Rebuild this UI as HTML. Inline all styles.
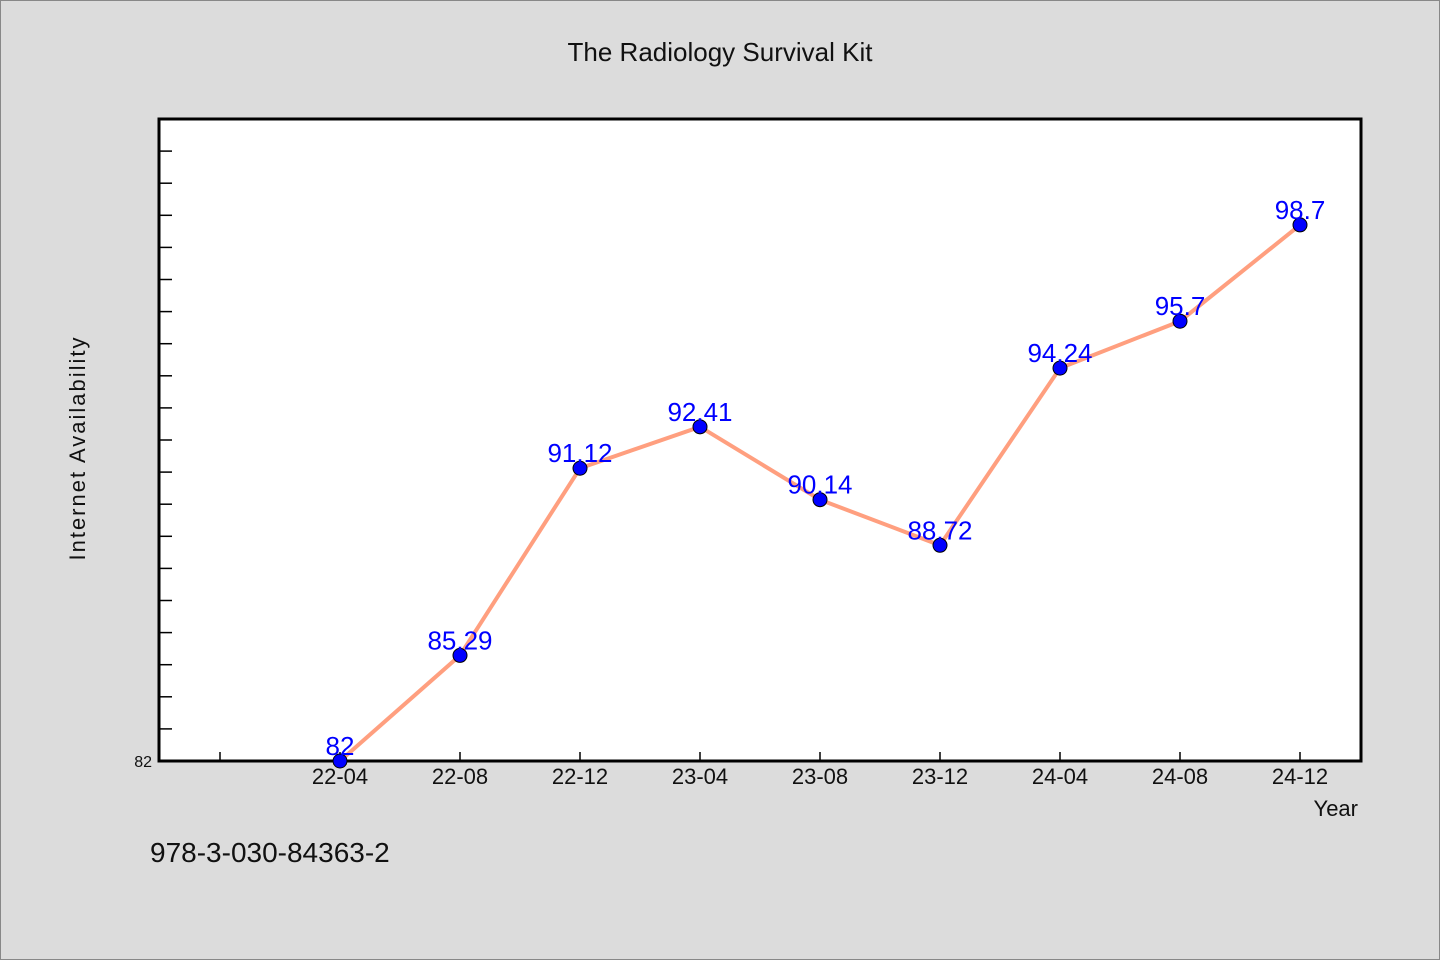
<!DOCTYPE html>
<html><head><meta charset="utf-8"><style>
body{margin:0;background:#dcdcdc;}
svg{display:block;font-family:"WenQuanYi Zen Hei","Liberation Sans",sans-serif;}
</style></head><body>
<svg id="c" width="1440" height="960">
<rect x="0.5" y="0.5" width="1439" height="959" fill="#dcdcdc" stroke="#888"/>
<text x="720" y="61" text-anchor="middle" font-size="26" fill="#111">The Radiology Survival Kit</text>
<rect x="159" y="119" width="1202" height="642" fill="#fff" stroke="#000" stroke-width="3"/>
<text transform="translate(85,448) rotate(-90)" text-anchor="middle" font-size="22" fill="#111" letter-spacing="2">Internet Availability</text>
<text x="1358" y="816" text-anchor="end" font-size="22" fill="#111">Year</text>
<text x="150" y="862" font-size="28" fill="#111">978-3-030-84363-2</text>
<g id="ticks"></g><g id="marks"></g>
</svg>
<script>
const categories=["22-04","22-08","22-12","23-04","23-08","23-12","24-04","24-08","24-12"];
const values=[82,85.29,91.12,92.41,90.14,88.72,94.24,95.7,98.7];
const yTickLabels=["82"];
const yMin=82,yMax=102;
const NS="http://www.w3.org/2000/svg";
function x(i){return 340+120*i;}
function y(v){return 761-(v-yMin)*(642/(yMax-yMin));}
function el(t,a,p){const e=document.createElementNS(NS,t);for(const k in a)e.setAttribute(k,a[k]);p.appendChild(e);return e;}
const tk=document.getElementById('ticks'),mk=document.getElementById('marks');
for(let v=yMin+1;v<yMax;v++){const l=el('line',{x1:159,x2:172,y1:y(v),y2:y(v),stroke:'#000','stroke-width':1.5},tk);

}
yTickLabels.forEach(s=>{const t=el('text',{x:152,y:y(+s)+6,'text-anchor':'end','font-size':16,fill:'#111'},tk);t.textContent=s;

});
for(let i=-1;i<categories.length;i++){const l=el('line',{x1:x(i),x2:x(i),y1:761,y2:752,stroke:'#000','stroke-width':1.5},tk);

}
categories.forEach((c,i)=>{const t=el('text',{x:x(i),y:784,'text-anchor':'middle','font-size':22,fill:'#111'},tk);t.textContent=c;

});
const pl=el('polyline',{points:values.map((v,i)=>x(i)+','+y(v)).join(' '),fill:'none',stroke:'#ff9f7f','stroke-width':4},mk);


values.forEach((v,i)=>{const c=el('circle',{cx:x(i),cy:y(v),r:7,fill:'#0000ff',stroke:'#000','stroke-width':1},mk);


const t=el('text',{x:x(i),y:y(v)-6,'text-anchor':'middle','font-size':26,fill:'#0000ff'},mk);t.textContent=String(v);

});
</script>
</body></html>
